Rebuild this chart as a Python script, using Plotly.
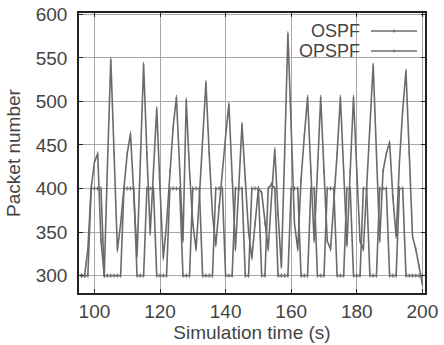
import plotly.graph_objects as go

time_s = list(range(96, 201))

ospf = [300, 300, 330, 400, 430, 440, 340, 300, 430, 548, 440, 329, 360, 400, 440, 463, 390, 323, 430, 543,
        440, 348, 420, 492, 400, 320, 360, 420, 470, 505, 420, 340, 502, 420, 360, 330, 390, 460, 522, 440,
        370, 335, 380, 420, 460, 497, 410, 330, 400, 474, 410, 350, 320, 360, 400, 395, 360, 330, 390, 445,
        370, 310, 440, 578, 470, 360, 330, 410, 460, 505, 420, 340, 420, 505, 420, 340, 330, 380, 440, 505,
        420, 335, 420, 505, 420, 340, 330, 400, 470, 542, 440, 340, 420, 440, 453, 390, 345, 430, 490, 535,
        440, 345, 330, 310, 290]

opspf = [300, 300, 300, 400, 400, 400, 400, 300, 300, 300, 300, 300, 300, 400, 400, 400, 400, 300, 300, 300,
         400, 400, 400, 300, 300, 300, 300, 400, 400, 400, 400, 300, 300, 300, 400, 400, 400, 300, 300, 300,
         300, 400, 400, 400, 300, 300, 300, 400, 400, 400, 300, 300, 400, 400, 400, 300, 300, 400, 405, 400,
         300, 300, 300, 300, 400, 400, 400, 300, 300, 300, 400, 400, 300, 300, 300, 400, 400, 400, 300, 300,
         300, 400, 400, 300, 300, 300, 400, 400, 300, 300, 300, 400, 400, 400, 300, 300, 300, 400, 400, 300,
         300, 300, 300, 300, 300]

series_names = ["OSPF", "OPSPF"]
x_ticks = [100, 120, 140, 160, 180, 200]
y_ticks = [300, 350, 400, 450, 500, 550, 600]

LINE = "#6b6b6b"
TXT = "#444444"
FONT = "Liberation Sans, Arial, sans-serif"

fig = go.Figure()
for name, vals in zip(series_names, [ospf, opspf]):
    fig.add_trace(go.Scatter(
        x=time_s, y=vals, name=name, mode="lines+markers",
        line=dict(color=LINE, width=1.6),
        marker=dict(symbol="line-ns", size=3, line=dict(color=LINE, width=1)),
        showlegend=False,
    ))

W, H = 444, 345
L, R, T, B = 79, 19, 13, 52
pw, ph = W - L - R, H - T - B

def px(xp):
    return (xp - L) / pw

def py(yp):
    return (H - B - yp) / ph

shapes = [
    dict(type="rect", xref="paper", yref="paper", x0=px(290), x1=1, y0=py(62), y1=1,
         fillcolor="white", line=dict(width=0), layer="between"),
]
annotations = []
for i, name in enumerate(series_names):
    yc = 31 + 20 * i
    annotations.append(dict(
        x=px(361), y=py(yc), xref="paper", yref="paper", text=name, showarrow=False,
        xanchor="right", yanchor="middle", borderpad=0,
        font=dict(family=FONT, size=18, color=TXT)))
    shapes.append(dict(type="line", xref="paper", yref="paper", x0=px(371), x1=px(417),
                       y0=py(yc), y1=py(yc), line=dict(color=LINE, width=1.6)))
    shapes.append(dict(type="line", xref="paper", yref="paper", x0=px(394), x1=px(394),
                       y0=py(yc - 1.5), y1=py(yc + 1.5), line=dict(color=LINE, width=1.2)))

axis_common = dict(
    showgrid=True, gridcolor="#a8a8a8", gridwidth=1,
    showline=True, linecolor="#222222", linewidth=1.5, mirror="ticks",
    ticks="inside", ticklen=4, tickcolor="#222222",
    tickfont=dict(family=FONT, size=19, color=TXT),
    zeroline=False,
)

fig.update_layout(
    width=W, height=H,
    margin=dict(l=L, r=R, t=T, b=B, pad=0),
    paper_bgcolor="white", plot_bgcolor="white",
    xaxis=dict(range=[95.3, 200.8], tickvals=x_ticks, automargin=False,
               title=dict(text="Simulation time (s)", font=dict(family=FONT, size=19, color=TXT), standoff=0),
               **axis_common),
    yaxis=dict(range=[280, 601.5], tickvals=y_ticks, automargin=False, ticklabelstandoff=6,
               title=dict(text="Packet number", font=dict(family=FONT, size=19, color=TXT), standoff=10),
               **axis_common),
    shapes=shapes,
    annotations=annotations,
)

fig.write_html("out.html", config={"displayModeBar": False},
               post_script="document.body.style.margin='0';document.body.style.padding='0';")
